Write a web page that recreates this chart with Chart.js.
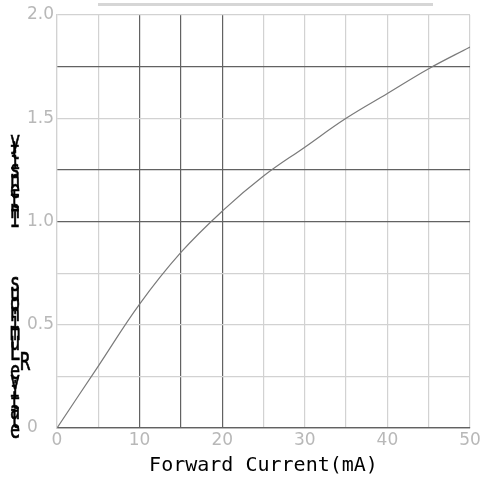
<!DOCTYPE html>
<html>
<head>
<meta charset="utf-8">
<script src="https://cdn.jsdelivr.net/npm/chart.js@4/dist/chart.umd.min.js"></script>
<style>
  body { margin: 0; background: #fff; }
  #wrap { position: relative; width: 484px; height: 482px; }
  #topRule { position: absolute; left: 98px; top: 3px; width: 335px; height: 3px; background: #d6d6d6; }
</style>
</head>
<body>
<div id="wrap">
  <canvas id="curveChart" width="484" height="482"></canvas>
  <div id="topRule"></div>
</div>
<script>
// forward current (mA) vs relative luminous intensity
const currentMA = [0, 5, 10, 15, 20, 25, 30, 35, 40, 45, 50];
const intensity = [0, 0.3, 0.6, 0.85, 1.05, 1.22, 1.36, 1.5, 1.62, 1.74, 1.845];
const xTitle = "Forward Current(mA)";
const yTitle = "Relative Luminous Intensity";

// the darker grid lines
const darkX = [10, 15, 20];
const darkY = [0, 1.0, 1.25, 1.75];
const DARK = "#626262";
const LIGHT = "#d2d2d2";

// y title is drawn as upright letters stacked bottom-up, like the source
const stackedTitle = {
  id: "stackedTitle",
  afterDraw(chart) {
    const ctx = chart.ctx;
    const gap = yTitle.indexOf(" ");
    const seq = yTitle.slice(1, gap) + yTitle[0] + yTitle.slice(gap + 1);
    ctx.save();
    ctx.fillStyle = "#000";
    ctx.strokeStyle = "#000";
    ctx.lineWidth = 0.7;
    ctx.font = '24px "DejaVu Sans Mono"';
    ctx.textAlign = "center";
    ctx.textBaseline = "middle";
    let y = 432;
    for (const ch of seq) {
      if (ch === " ") {
        y -= 54;
        continue;
      }
      const x = ch === yTitle[0] ? 25 : 15;
      ctx.save();
      ctx.translate(x, y);
      ctx.scale(0.7, 1);
      ctx.fillText(ch, 0, 0);
      ctx.strokeText(ch, 0, 0);
      ctx.restore();
      y -= 9.8;
    }
    ctx.restore();
  },
};

const ctx = document.getElementById("curveChart");

new Chart(ctx, {
  type: "line",
  data: {
    datasets: [
      {
        data: currentMA.map((x, i) => ({ x: x, y: intensity[i] })),
        borderColor: "#7a7a7a",
        borderWidth: 1.2,
        pointRadius: 0,
        tension: 0.4,
        fill: false,
      },
    ],
  },
  options: {
    responsive: false,
    animation: false,
    layout: {
      padding: { left: 27, top: 15, right: 14, bottom: 0 },
    },
    plugins: {
      legend: { display: false },
      tooltip: { enabled: false },
    },
    scales: {
      x: {
        type: "linear",
        min: 0,
        max: 50,
        afterFit: (scale) => {
          scale.height = 54;
        },
        ticks: {
          stepSize: 5,
          autoSkip: false,
          maxRotation: 0,
          padding: 2,
          color: "#b8b8b8",
          font: { family: "DejaVu Sans", size: 17 },
          callback: (v) => (v % 10 === 0 ? String(v) : ""),
        },
        grid: {
          drawTicks: false,
          color: (c) => (darkX.includes(c.tick.value) ? DARK : LIGHT),
          lineWidth: 1.2,
        },
        border: { color: DARK, width: 1.2 },
        title: {
          display: true,
          text: xTitle,
          color: "#000",
          font: { family: "DejaVu Sans Mono", size: 20 },
          padding: { top: 0, bottom: 4 },
        },
      },
      y: {
        min: 0,
        max: 2,
        afterFit: (scale) => {
          scale.width = 30;
        },
        ticks: {
          stepSize: 0.25,
          autoSkip: false,
          crossAlign: "far",
          color: "#b8b8b8",
          font: { family: "DejaVu Sans", size: 17 },
          callback: (v) => (v % 0.5 === 0 ? (v === 0 ? "0" : v.toFixed(1)) : ""),
        },
        grid: {
          drawTicks: false,
          color: (c) => (darkY.includes(c.tick.value) ? DARK : LIGHT),
          lineWidth: 1.2,
        },
        border: { color: LIGHT, width: 1.2 },
      },
    },
  },
  plugins: [stackedTitle],
});
</script>
</body>
</html>
